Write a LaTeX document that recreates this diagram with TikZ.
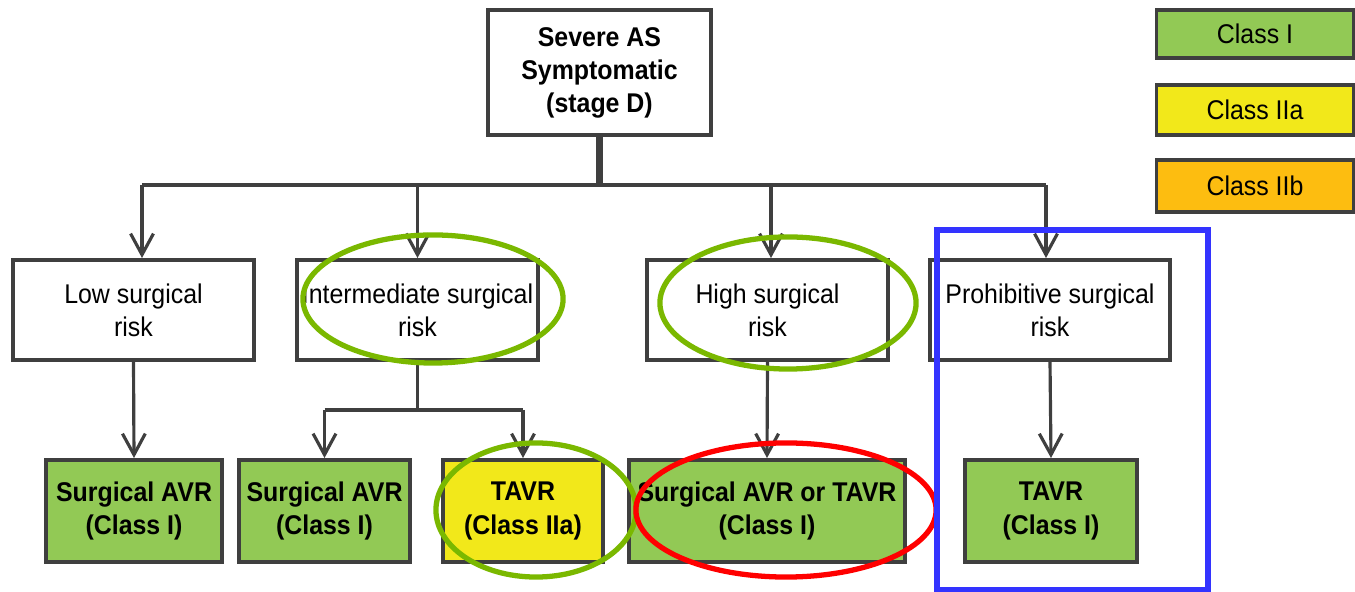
\documentclass[tikz,border=0pt]{standalone}
\usepackage{fontspec}
\setmainfont{Liberation Sans}[FakeStretch=0.92]
\usetikzlibrary{arrows.meta}
\definecolor{edge}{HTML}{3F3F3F}
\definecolor{classI}{HTML}{92C955}
\definecolor{classIIa}{HTML}{F2E81A}
\definecolor{classIIb}{HTML}{FDBD10}
\definecolor{ring}{HTML}{7AB800}
\definecolor{frameblue}{HTML}{3333FF}

\begin{document}
\begin{tikzpicture}[x=0.01cm, y=-0.01cm,
		box/.style={draw=edge, line width=1.1pt, align=center, inner sep=0pt,
			font=\fontsize{7.7}{9.4}\selectfont},
		riskbox/.style={box, minimum width=2.41cm, minimum height=1cm},
		treatbox/.style={box, font=\fontsize{7.7}{9.4}\selectfont\bfseries, minimum height=1.02cm},
		keybox/.style={box, minimum width=1.97cm},
		link/.style={draw=edge, line width=0.9pt},
		arr/.style={link, -{Straight Barb[length=6pt,width=6.5pt]}},
		oval/.style={line width=1.5pt}]
			%%%%% START %%%%%
			\useasboundingbox (0,0) rectangle (1355,592);
			
			\node[box, font=\fontsize{7.7}{9.4}\selectfont\bfseries, minimum width=2.23cm, minimum height=1.25cm] (top) at (599.5,72.5) {Severe AS\\Symptomatic\\(stage D)};
			
			\node[riskbox] (low) at (133.5,310) {Low surgical\\risk};
			\node[riskbox] (inter) at (417.5,310) {Intermediate surgical\\risk};
			\node[riskbox] (high) at (767.5,310) {High surgical\\risk};
			\node[riskbox, minimum width=2.40cm] (prohib) at (1050,310) {Prohibitive surgical\\risk};
			
			\node[treatbox, fill=classI, minimum width=1.76cm] (savr1) at (134,511) {Surgical AVR\\(Class I)};
			\node[treatbox, fill=classI, minimum width=1.71cm] (savr2) at (324.5,511) {Surgical AVR\\(Class I)};
			\node[treatbox, fill=classIIa, minimum width=1.60cm] (tavr2) at (523,511) {TAVR\\(Class IIa)};
			\node[treatbox, fill=classI, minimum width=2.76cm] (either) at (767,511) {Surgical AVR or TAVR\\(Class I)};
			\node[treatbox, fill=classI, minimum width=1.72cm] (tavr1) at (1051,511) {TAVR\\(Class I)};
			
			% key
			\node[keybox, fill=classI, minimum height=0.48cm] (keyI) at (1255,34) {Class I};
			\node[keybox, fill=classIIa, minimum height=0.50cm] (keyIIa) at (1255,110) {Class IIa};
			\node[keybox, fill=classIIb, minimum height=0.52cm] (keyIIb) at (1255,186) {Class IIb};
			
			% tree
			\coordinate (bar) at (600,185);
			\coordinate (split) at (418,410);
			\draw[link, line width=1.8pt] (top.south) -- (top.south |- bar);
			\draw[link, line width=1.2pt] ([xshift=0.085cm]low.north |- bar) -- ([xshift=-0.04cm]prohib.north |- bar);
			\draw[arr] ([xshift=0.085cm]low.north |- bar) -- ([xshift=0.085cm]low.north);
			\draw[arr] (inter.north |- bar) -- (inter.north);
			\draw[arr] ([xshift=0.035cm]high.north |- bar) -- ([xshift=0.035cm]high.north);
			\draw[arr] ([xshift=-0.04cm]prohib.north |- bar) -- ([xshift=-0.04cm]prohib.north);
			
			\draw[arr] (low.south) -- (savr1.north);
			\draw[link] (inter.south) -- (inter.south |- split);
			\draw[link] (savr2.north |- split) -- (tavr2.north |- split);
			\draw[arr] (savr2.north |- split) -- (savr2.north);
			\draw[arr] (tavr2.north |- split) -- (tavr2.north);
			\draw[arr] (high.south) -- (either.north);
			\draw[arr] (prohib.south) -- (tavr1.north);
			
			% highlights
			\draw[oval, ring] (433,299) ellipse (1.30cm and 0.64cm);
			\draw[oval, ring] (788,303) ellipse (1.28cm and 0.66cm);
			\draw[oval, ring] (536,510) ellipse (1.00cm and 0.67cm);
			\draw[oval, red] (786,510) ellipse (1.50cm and 0.67cm);
			\draw[oval, frameblue] (937,230) rectangle (1208,590);
			%%%%% END %%%%%
\end{tikzpicture}
\end{document}
